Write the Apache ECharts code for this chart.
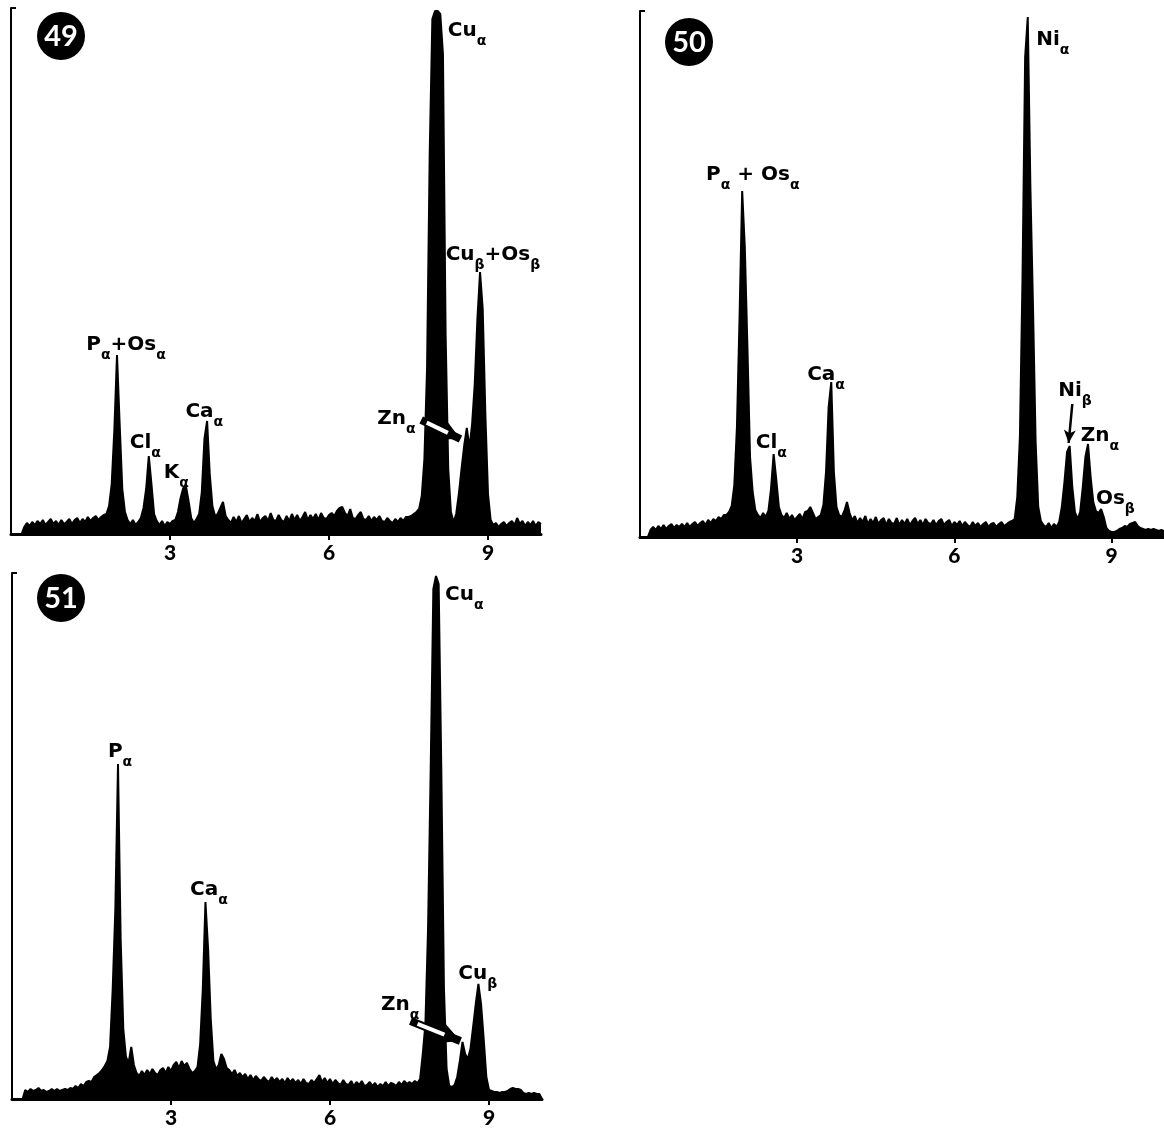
<!DOCTYPE html>
<html>
<head>
<meta charset="utf-8">
<title>X-ray spectra 49 / 50 / 51</title>
<script src="https://cdn.jsdelivr.net/npm/echarts@6/dist/echarts.min.js"></script>
<style>
    html, body { margin: 0; padding: 0; background: #fff; }
    #chart { width: 1164px; height: 1131px; }
</style>
</head>
<body>
<div id="chart"></div>
<script>
// energy channels: 0 .. 10 keV, one reading every 0.05 keV
var E_START = 0, E_STEP = 0.05;
var tickLabels = [3, 6, 9];
var COUNT_MAX = 526;

// spectrum 49 (counts, 201 channels)
var counts49 = [
    0, 0, 0, 0, 0, 7, 11, 8, 12, 9,
    13, 10, 14, 9, 12, 15, 10, 13, 9, 14,
    10, 12, 15, 10, 14, 16, 11, 15, 12, 17,
    13, 16, 18, 14, 17, 19, 20, 28, 50, 104,
    179, 110, 45, 22, 14, 10, 14, 9, 12, 16,
    26, 45, 78, 50, 20, 13, 9, 13, 8, 12,
    10, 13, 14, 22, 36, 46, 48, 33, 16, 11,
    15, 20, 42, 95, 113, 60, 28, 18, 20, 26,
    32, 18, 14, 11, 17, 12, 18, 11, 15, 19,
    12, 16, 13, 20, 12, 16, 18, 13, 21, 14,
    13, 19, 14, 12, 18, 13, 20, 14, 19, 13,
    17, 22, 14, 19, 15, 20, 14, 21, 16, 15,
    19, 21, 18, 23, 26, 27, 21, 18, 25, 16,
    15, 19, 22, 15, 14, 18, 13, 17, 14, 18,
    13, 12, 16, 13, 11, 15, 12, 16, 13, 17,
    17, 18, 20, 22, 25, 38, 75, 165, 380, 515,
    523, 523, 520, 480, 200, 65, 22, 12, 20, 40,
    65, 88, 106, 86, 110, 150, 215, 262, 225, 120,
    40, 14, 9, 11, 7, 10, 12, 8, 11, 13,
    9, 16, 10, 13, 8, 12, 9, 13, 8, 12,
    10
];

// spectrum 50
var counts50 = [
    0, 0, 0, 0, 7, 10, 7, 11, 8, 12,
    8, 11, 13, 9, 12, 10, 13, 10, 14, 10,
    13, 15, 11, 14, 16, 12, 17, 14, 18, 16,
    20, 18, 22, 22, 25, 31, 52, 110, 220, 346,
    290, 190, 80, 45, 27, 22, 19, 24, 20, 26,
    48, 83, 58, 30, 22, 19, 24, 18, 22, 17,
    20, 23, 18, 25, 26, 30, 24, 18, 20, 22,
    32, 65, 130, 155, 65, 30, 22, 20, 26, 35,
    24, 17, 21, 14, 19, 15, 21, 13, 18, 14,
    20, 13, 17, 19, 12, 18, 14, 13, 19, 12,
    17, 13, 18, 12, 16, 19, 13, 17, 12, 18,
    14, 13, 17, 12, 16, 18, 12, 15, 17, 11,
    15, 12, 16, 11, 15, 12, 10, 15, 11, 14,
    10, 13, 15, 10, 13, 14, 10, 13, 15, 11,
    13, 15, 16, 18, 40, 100, 260, 480, 520, 350,
    230, 95, 30, 16, 12, 10, 14, 9, 13, 10,
    15, 30, 55, 85, 91, 50, 25, 18, 25, 50,
    80, 93, 60, 35, 26, 24, 28, 20, 9, 6,
    5, 5, 6, 8, 9, 11, 10, 13, 14, 15,
    11, 9, 8, 7, 8, 7, 8, 7, 6, 7,
    6
];

// spectrum 51
var counts51 = [
    0, 0, 0, 0, 0, 9, 7, 10, 8, 9,
    11, 8, 9, 7, 8, 10, 8, 10, 8, 9,
    10, 9, 11, 10, 13, 11, 15, 13, 17, 18,
    17, 22, 24, 26, 29, 33, 38, 52, 110, 190,
    335, 160, 70, 42, 36, 52, 34, 26, 23, 28,
    24, 29, 25, 30, 26, 24, 29, 31, 26, 32,
    28, 34, 37, 31, 38, 33, 36, 30, 26, 28,
    32, 55, 110, 197, 150, 80, 38, 30, 34, 45,
    40, 31, 29, 25, 29, 23, 26, 22, 25, 20,
    24, 19, 23, 20, 18, 22, 19, 17, 22, 18,
    21, 17, 20, 16, 21, 17, 20, 16, 19, 15,
    20, 16, 15, 19, 16, 20, 24, 17, 21, 16,
    20, 15, 19, 16, 14, 19, 15, 14, 18, 13,
    17, 14, 18, 13, 14, 17, 13, 16, 12, 15,
    13, 17, 13, 16, 15, 13, 17, 14, 18, 15,
    17, 15, 18, 16, 20, 45, 75, 170, 330, 510,
    523, 515, 330, 110, 30, 13, 12, 14, 22, 38,
    57, 45, 40, 50, 72, 95, 115, 95, 60, 22,
    9, 8, 7, 7, 6, 7, 7, 8, 10, 11,
    10, 10, 9, 6, 5, 6, 5, 6, 5, 5,
    0
];

// peak labels: text, anchor energy (keV), anchor height (counts) = top-left of the label
var labels49 = [
    ['{m|Cu}{s|α}', 8.25, 513],
    ['{m|Cu}{s|β}{m|+Os}{s|β}', 8.21, 289],
    ['{m|P}{s|α}{m|+Os}{s|α}', 1.43, 199],
    ['{m|Cl}{s|α}', 2.25, 101],
    ['{m|K}{s|α}', 2.89, 71],
    ['{m|Ca}{s|α}', 3.30, 132],
    ['{m|Zn}{s|α}', 6.92, 125]
];
var labels50 = [
    ['{m|Ni}{s|α}', 7.57, 507],
    ['{m|P}{s|α}{m| + Os}{s|α}', 1.27, 372],
    ['{m|Ca}{s|α}', 3.20, 172],
    ['{m|Cl}{s|α}', 2.22, 104],
    ['{m|Ni}{s|β}', 7.99, 156],
    ['{m|Zn}{s|α}', 8.42, 111],
    ['{m|Os}{s|β}', 8.71, 48]
];
var labels51 = [
    ['{m|Cu}{s|α}', 8.18, 514],
    ['{m|P}{s|α}', 1.82, 357],
    ['{m|Ca}{s|α}', 3.37, 219],
    ['{m|Cu}{s|β}', 8.43, 135],
    ['{m|Zn}{s|α}', 6.97, 104]
];

// arrows [fromKeV, fromCounts, toKeV, toCounts, hollow]
var arrows49 = [[7.74, 114, 8.48, 95, true]];
var arrows50 = [[8.25, 133, 8.18, 94, false]];
var arrows51 = [[7.52, 78, 8.46, 58, true]];

var panelNames = ['49', '50', '51'];

function toPoints(counts){
    return counts.map(function(c, i){
        return [+(E_START + i * E_STEP).toFixed(2), c];
    });
}

var FONT = 'Lato, "DejaVu Sans", sans-serif';
var LABEL_FONT = '"DejaVu Sans", sans-serif';

var labelRich = {
    m: { fontFamily: LABEL_FONT, fontWeight: 'bold', fontSize: 20, color: '#000', lineHeight: 22, verticalAlign: 'top' },
    s: { fontFamily: LABEL_FONT, fontWeight: 'bold', fontSize: 14, color: '#000', lineHeight: 28, verticalAlign: 'bottom' }
};

function markPoints(list){
    return {
        silent: true,
        symbol: 'circle',
        symbolSize: 1,
        itemStyle: { color: 'rgba(0,0,0,0)' },
        label: {
            show: true,
            position: [0, 0],
            align: 'left',
            verticalAlign: 'top',
            rich: labelRich
        },
        data: list.map(function(l){
            return { coord: [l[1], l[2]], label: { formatter: l[0] } };
        })
    };
}

function arrowLines(list){
    var data = [];
    list.forEach(function(a){
        if (a[4]) {
            data.push([
                { coord: [a[0], a[1]], symbol: 'none' },
                { coord: [a[2], a[3]], symbol: 'arrow', symbolSize: [17, 22],
                  lineStyle: { color: '#000', width: 8 } }
            ]);
            // white core of the hollow arrow
            var k = 0.68;
            data.push([
                { coord: [a[0] + (a[2] - a[0]) * 0.14, a[1] + (a[3] - a[1]) * 0.14], symbol: 'none' },
                { coord: [a[0] + (a[2] - a[0]) * k, a[1] + (a[3] - a[1]) * k], symbol: 'none',
                  lineStyle: { color: '#fff', width: 4 } }
            ]);
        } else {
            data.push([
                { coord: [a[0], a[1]], symbol: 'none' },
                { coord: [a[2], a[3]], symbol: 'arrow', symbolSize: [9, 13],
                  lineStyle: { color: '#000', width: 2.5 } }
            ]);
        }
    });
    return {
        silent: true,
        label: { show: false },
        emphasis: { disabled: true },
        lineStyle: { type: 'solid', color: '#000' },
        data: data
    };
}

function renderData(){
    var chart = echarts.init(document.getElementById('chart'), null, { renderer: 'canvas' });

    var grids = [
        { left: 11, top: 8, width: 530, height: 526 },
        { left: 640, top: 11, width: 530, height: 526 },
        { left: 12, top: 573, width: 530, height: 526 }
    ];

    var spectra = [counts49, counts50, counts51];
    var labelSets = [labels49, labels50, labels51];
    var arrowSets = [arrows49, arrows50, arrows51];

    var xAxes = [], yAxes = [], series = [];
    for (var i = 0; i < 3; i++) {
        xAxes.push({
            type: 'value',
            gridIndex: i,
            min: 0,
            max: 10,
            splitLine: { show: false },
            axisLine: { show: true, onZero: false, lineStyle: { color: '#000', width: 3 } },
            axisTick: { show: true, customValues: tickLabels, length: 6, lineStyle: { color: '#000', width: 2 } },
            axisLabel: {
                show: true,
                customValues: tickLabels,
                margin: 9,
                color: '#000',
                fontFamily: FONT,
                fontWeight: 900,
                fontSize: 21
            }
        });
        yAxes.push({
            type: 'value',
            gridIndex: i,
            min: 0,
            max: COUNT_MAX,
            splitLine: { show: false },
            axisLine: { show: true, lineStyle: { color: '#000', width: 2 } },
            axisTick: { show: true, inside: true, customValues: [COUNT_MAX], length: 5, lineStyle: { color: '#000', width: 2 } },
            axisLabel: { show: false }
        });
        series.push({
            name: 'spectrum ' + panelNames[i],
            type: 'line',
            xAxisIndex: i,
            yAxisIndex: i,
            data: toPoints(spectra[i]),
            showSymbol: false,
            symbol: 'none',
            silent: true,
            lineStyle: { color: '#000', width: 2 },
            areaStyle: { color: '#000', opacity: 1 },
            markPoint: markPoints(labelSets[i])
        });
        series.push({
            name: 'arrows ' + panelNames[i],
            type: 'line',
            xAxisIndex: i,
            yAxisIndex: i,
            data: [],
            z: 10,
            silent: true,
            markLine: arrowLines(arrowSets[i])
        });
    }

    var circles = [[61, 36], [689, 42], [61, 598]];
    var graphic = [];
    circles.forEach(function(c, i){
        graphic.push({
            type: 'circle',
            shape: { cx: c[0], cy: c[1], r: 24 },
            style: { fill: '#000' },
            z: 100
        });
        graphic.push({
            type: 'text',
            x: c[0],
            y: c[1] + 1,
            style: {
                text: panelNames[i],
                fill: '#fff',
                font: 'bold 29px ' + FONT,
                align: 'center',
                verticalAlign: 'middle'
            },
            z: 101
        });
    });

    chart.setOption({
        animation: false,
        backgroundColor: '#fff',
        grid: grids,
        xAxis: xAxes,
        yAxis: yAxes,
        series: series,
        graphic: graphic
    });
}

renderData();
</script>
</body>
</html>
